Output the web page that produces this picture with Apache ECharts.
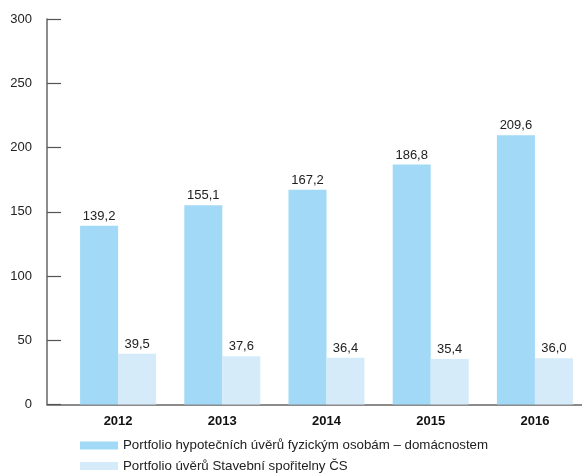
<!DOCTYPE html>
<html>
<head>
<meta charset="utf-8">
<script src="https://cdn.jsdelivr.net/npm/echarts@6/dist/echarts.min.js"></script>
<style>
  html, body { margin: 0; padding: 0; background: #fff; }
  #chart { width: 582px; height: 473px; }
</style>
</head>
<body>
<div id="chart"></div>
<script>
const years = ['2012', '2013', '2014', '2015', '2016']
const mortgages = [139.2, 155.1, 167.2, 186.8, 209.6]
const buildingSavings = [39.5, 37.6, 36.4, 35.4, 36.0]
const seriesNames = [
  'Portfolio hypotečních úvěrů fyzickým osobám – domácnostem',
  'Portfolio úvěrů Stavební spořitelny ČS'
]

const FONT = 'Liberation Sans, Arial, sans-serif'
const fmt = p => p.value.toFixed(1).replace('.', ',')

const legendBase = {
  left: 80,
  padding: 0,
  itemWidth: 38,
  itemHeight: 8,
  itemGap: 6,
  icon: 'rect',
  textStyle: { fontSize: 13.3, color: '#222', fontFamily: FONT }
}

const chart = echarts.init(document.getElementById('chart'))
chart.setOption({
  backgroundColor: '#fff',
  animation: false,
  textStyle: { fontFamily: FONT },
  grid: [
    { left: 47, right: 0, top: 19, bottom: 68.5, outerBoundsMode: 'none' },
    { left: 66, width: 521, top: 19, bottom: 68.5, outerBoundsMode: 'none' }
  ],
  legend: [
    Object.assign({ top: 439, data: [seriesNames[0]] }, legendBase),
    Object.assign({ top: 459.5, data: [seriesNames[1]] }, legendBase)
  ],
  xAxis: [
    {
      gridIndex: 0,
      type: 'category',
      data: years,
      axisLine: { lineStyle: { color: '#666', width: 1.5 } },
      axisTick: { show: false },
      axisLabel: { show: false }
    },
    {
      gridIndex: 1,
      type: 'category',
      data: years,
      axisLine: { show: false },
      axisTick: { show: false },
      axisLabel: { color: '#111', fontWeight: 'bold', fontSize: 13, margin: 10, fontFamily: FONT }
    }
  ],
  yAxis: [
    {
      gridIndex: 0,
      type: 'value',
      min: 0,
      max: 300,
      interval: 50,
      axisLine: { show: true, lineStyle: { color: '#666', width: 1.5 } },
      axisTick: { show: true, inside: true, length: 14, lineStyle: { color: '#555', width: 1.2 } },
      axisLabel: { color: '#222', fontSize: 13, margin: 15, fontFamily: FONT },
      splitLine: { show: false }
    },
    {
      gridIndex: 1,
      type: 'value',
      min: 0,
      max: 300,
      interval: 50,
      show: false,
      splitLine: { show: false }
    }
  ],
  series: [
    {
      name: seriesNames[0],
      type: 'bar',
      xAxisIndex: 1,
      yAxisIndex: 1,
      barWidth: 38,
      barGap: '0%',
      itemStyle: { color: '#a2d9f6' },
      label: { show: true, position: 'top', distance: 3, color: '#222', fontSize: 13, formatter: fmt },
      data: mortgages
    },
    {
      name: seriesNames[1],
      type: 'bar',
      xAxisIndex: 1,
      yAxisIndex: 1,
      barWidth: 38,
      barGap: '0%',
      itemStyle: { color: '#d5ebf9' },
      label: { show: true, position: 'top', distance: 3, color: '#222', fontSize: 13, formatter: fmt },
      data: buildingSavings
    }
  ]
})
</script>
</body>
</html>
